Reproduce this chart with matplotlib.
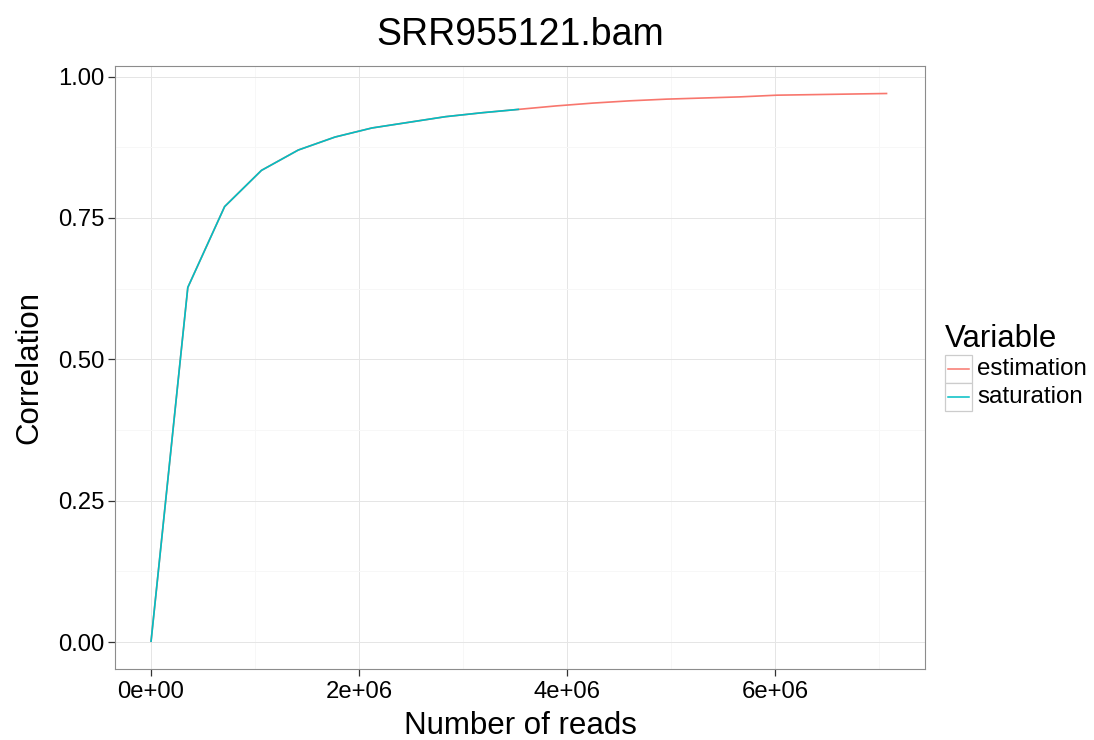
import matplotlib
matplotlib.use("Agg")
import matplotlib.pyplot as plt
from matplotlib.patches import Rectangle
from matplotlib.lines import Line2D
from matplotlib.ticker import FixedLocator

plt.rcParams['font.family'] = ['Liberation Sans', 'DejaVu Sans']

title = "SRR955121.bam"
series_names = ["estimation", "saturation"]
series_colors = ["#F8766D", "#00BFC4"]

# estimation (full range)
est_reads = [0, 354000, 708000, 1062000, 1416000, 1770000, 2124000, 2478000,
             2832000, 3186000, 3540000, 3894000, 4248000, 4602000, 4956000,
             5310000, 5664000, 6018000, 6372000, 6726000, 7080000]
est_corr = [0.0, 0.627, 0.770, 0.834, 0.870, 0.893, 0.909, 0.919, 0.929,
            0.936, 0.942, 0.948, 0.953, 0.957, 0.960, 0.962, 0.964, 0.967,
            0.968, 0.969, 0.970]

# saturation (observed)
sat_reads = [0, 354000, 708000, 1062000, 1416000, 1770000, 2124000, 2478000,
             2832000, 3186000, 3540000]
sat_corr = [0.0, 0.627, 0.770, 0.834, 0.870, 0.893, 0.909, 0.919, 0.929,
            0.936, 0.942]

x_ticks = [0, 2e6, 4e6, 6e6]
x_ticklabels = ["0e+00", "2e+06", "4e+06", "6e+06"]
x_minor = [1e6, 3e6, 5e6, 7e6]
y_ticks = [0.0, 0.25, 0.5, 0.75, 1.0]
y_ticklabels = ["0.00", "0.25", "0.50", "0.75", "1.00"]
y_minor = [0.125, 0.375, 0.625, 0.875]

W, H = 1094, 740
fig = plt.figure(figsize=(W / 100, H / 100), dpi=100)
ax = fig.add_axes([115 / W, 1 - 669 / H, 810 / W, 603 / H])

ax.plot(est_reads, est_corr, color=series_colors[0], lw=1.2, solid_capstyle='butt', zorder=3)
ax.plot(sat_reads, sat_corr, color=series_colors[1], lw=1.2, solid_capstyle='butt', zorder=4)

ax.set_xlim(-0.346e6, 7.442e6)
ax.set_ylim(-0.0477, 1.0186)

ax.xaxis.set_major_locator(FixedLocator(x_ticks))
ax.xaxis.set_minor_locator(FixedLocator(x_minor))
ax.yaxis.set_major_locator(FixedLocator(y_ticks))
ax.yaxis.set_minor_locator(FixedLocator(y_minor))
ax.set_xticklabels(x_ticklabels)
ax.set_yticklabels(y_ticklabels)

ax.grid(True, which='major', color='#E5E5E5', lw=0.7, zorder=0)
ax.grid(True, which='minor', color='#F7F7F7', lw=0.7, zorder=0)
ax.set_axisbelow(True)

ax.tick_params(which='major', direction='out', length=5, width=0.9, color='#333333',
               labelsize=17.2, labelcolor='black')
ax.tick_params(axis='y', pad=2.5)
ax.tick_params(axis='x', pad=4)
ax.tick_params(which='minor', length=0)
for s in ax.spines.values():
    s.set_color('#8C8C8C')
    s.set_linewidth(0.8)

ax.set_xlabel("Number of reads", fontsize=22.5, labelpad=5.5)
ax.set_ylabel("Correlation", fontsize=22.5, labelpad=10)
ax.set_title(title, fontsize=27, pad=15)

# legend
fig.text(945 / W, 1 - 339 / H, "Variable", fontsize=22.4, va='center', ha='left')
for i, (name, col) in enumerate(zip(series_names, series_colors)):
    y0 = 355 + i * 28
    fig.add_artist(Rectangle((945 / W, 1 - (y0 + 28) / H), 27 / W, 28 / H,
                             transform=fig.transFigure, facecolor='white',
                             edgecolor='#CCCCCC', lw=0.9))
    fig.add_artist(Line2D([948 / W, 969 / W], [1 - (y0 + 14) / H] * 2,
                          transform=fig.transFigure, color=col, lw=1.1))
    fig.text(977 / W, 1 - (y0 + 14) / H, name, fontsize=17.4, va='center', ha='left')

fig.savefig("out.png", dpi=100)
